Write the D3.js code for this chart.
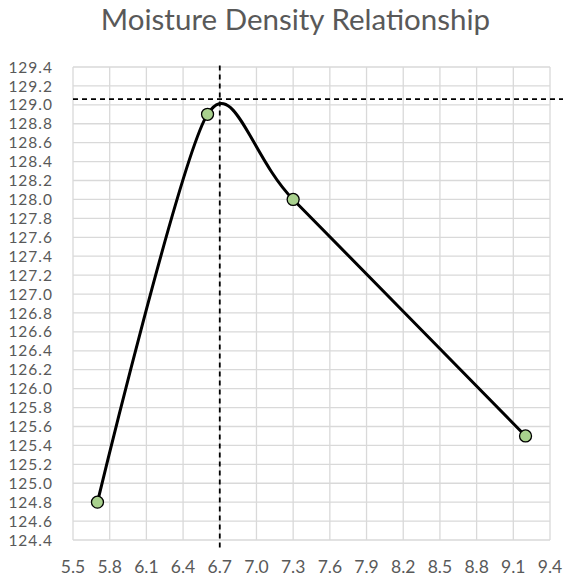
<!DOCTYPE html>
<html><head><meta charset="utf-8">
<script src="https://cdn.jsdelivr.net/npm/d3@7"></script>
<style>body{margin:0;background:#fff}svg{display:block}</style>
</head><body>
<svg id="c" width="563" height="581"></svg>
<script>
const title = "Moisture Density Relationship";
const moisture = [5.7, 6.6, 7.3, 9.2];
const density = [124.8, 128.9, 128.0, 125.5];
const xTicks = [5.5,5.8,6.1,6.4,6.7,7.0,7.3,7.6,7.9,8.2,8.5,8.8,9.1,9.4];
const yTicks = d3.range(0,26).map(i => +(124.4 + i*0.2).toFixed(1));
const optMoisture = 6.7;
const maxDensity = 129.06;
const vDashY = [124.32, 129.44];
const hDashX = [5.5, 9.6];

const svg = d3.select("#c");
const L = 73, R = 550, T = 67, B = 540;
const x = d3.scaleLinear().domain([5.5, 9.4]).range([L, R]);
const y = d3.scaleLinear().domain([124.4, 129.4]).range([B, T]);
const font = "Lato, 'Open Sans', sans-serif";

svg.append("text").attr("x", 295.5).attr("y", 30).attr("text-anchor","middle")
  .attr("font-family", font).attr("font-size", 29.5).attr("fill","#595959").text(title);

const g = svg.append("g");
g.selectAll("line.vg").data(xTicks).join("line").attr("class","vg")
  .attr("x1", d=>x(d)).attr("x2", d=>x(d)).attr("y1", T).attr("y2", B)
  .attr("stroke","#d9d9d9").attr("stroke-width",1.3);
g.selectAll("line.hg").data(yTicks).join("line").attr("class","hg")
  .attr("x1", L).attr("x2", R).attr("y1", d=>y(d)).attr("y2", d=>y(d))
  .attr("stroke","#d9d9d9").attr("stroke-width",1.3);

g.selectAll("text.yl").data(yTicks).join("text").attr("class","yl")
  .attr("x", 53).attr("y", d=>y(d)).attr("dy","0.36em").attr("text-anchor","end")
  .attr("font-family", font).attr("font-size", 15.5).attr("letter-spacing", 1)
  .attr("fill","#595959")
  .text(d=>d.toFixed(1));
g.selectAll("text.xl").data(xTicks).join("text").attr("class","xl")
  .attr("x", d=>x(d)).attr("y", 573).attr("text-anchor","middle")
  .attr("font-family", font).attr("font-size", 17.5).attr("fill","#595959")
  .text(d=>d.toFixed(1));

// dashed reference lines
svg.append("line").attr("x1", x(optMoisture)).attr("x2", x(optMoisture))
  .attr("y1", y(vDashY[0])).attr("y2", y(vDashY[1]))
  .attr("stroke","#000").attr("stroke-width",1.8).attr("stroke-dasharray","5,4");
svg.append("line").attr("x1", x(hDashX[0])).attr("x2", x(hDashX[1]))
  .attr("y1", y(maxDensity)).attr("y2", y(maxDensity))
  .attr("stroke","#000").attr("stroke-width",1.8).attr("stroke-dasharray","5,4");

const pts = moisture.map((m,i)=>[m, density[i]]);
const line = d3.line().x(d=>x(d[0])).y(d=>y(d[1])).curve(d3.curveCardinal.tension(0.2));
svg.append("path").attr("d", line(pts)).attr("fill","none").attr("stroke","#000").attr("stroke-width",3);
svg.selectAll("circle").data(pts).join("circle")
  .attr("cx", d=>x(d[0])).attr("cy", d=>y(d[1])).attr("r", 6)
  .attr("fill","#a9d18e").attr("stroke","#000").attr("stroke-width",1.3);
</script>
</body></html>
